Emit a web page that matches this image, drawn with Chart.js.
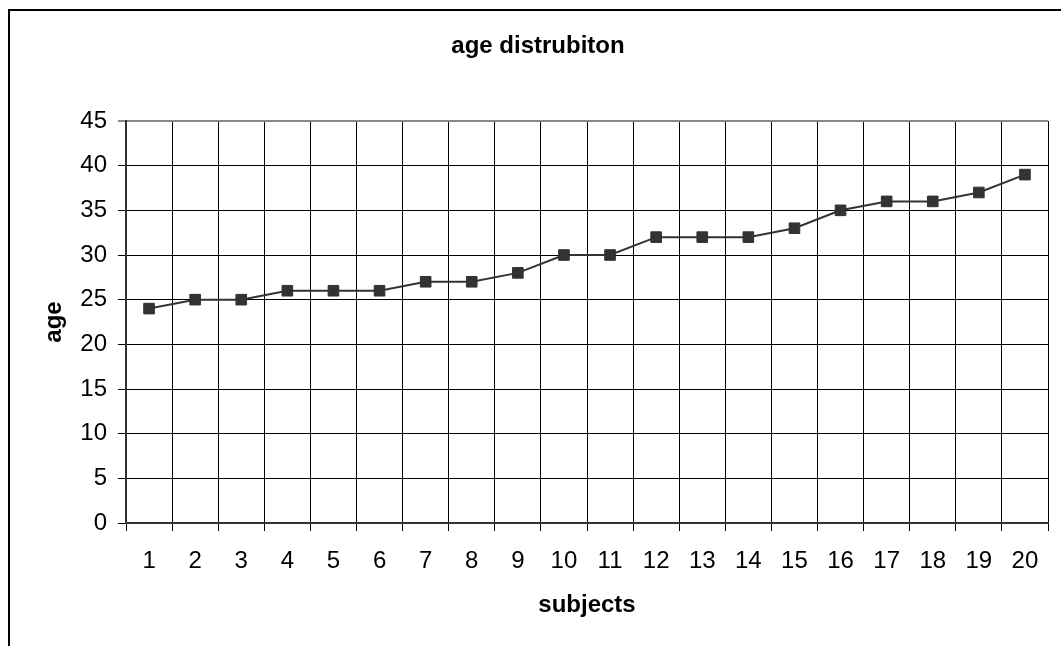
<!DOCTYPE html>
<html>
<head>
<meta charset="utf-8">
<title>age distrubiton</title>
<script src="https://cdn.jsdelivr.net/npm/chart.js@4/dist/chart.umd.min.js"></script>
<style>
  html, body { margin: 0; padding: 0; background: #fff; overflow: hidden; }
  body { width: 1061px; height: 646px; position: relative; }
  .frame {
    position: absolute;
    left: 8px;
    top: 9px;
    width: 1070px;
    height: 700px;
    border-left: 2px solid #000;
    border-top: 2px solid #000;
  }
  canvas { display: block; }
</style>
</head>
<body>
<div class="frame">
  <canvas id="chart" width="1056" height="635"></canvas>
</div>
<script>
const subjects = ["1", "2", "3", "4", "5", "6", "7", "8", "9", "10",
  "11", "12", "13", "14", "15", "16", "17", "18", "19", "20"];
const ages = [24, 25, 25, 26, 26, 26, 27, 27, 28, 30,
  30, 32, 32, 32, 33, 35, 36, 36, 37, 39];
const ageTicks = [0, 5, 10, 15, 20, 25, 30, 35, 40, 45];

const FONT = "'Liberation Sans', Arial, sans-serif";
const lineColor = "#333333";
const frameGray = "#888888";

Chart.defaults.font.family = FONT;
Chart.defaults.color = "#000";

function renderChart() {
  const canvas = document.getElementById("chart");
  const lastGrid = subjects.length;

  return new Chart(canvas, {
    type: "line",
    data: {
      labels: subjects,
      datasets: [
        {
          label: "age",
          data: ages,
          borderColor: lineColor,
          backgroundColor: lineColor,
          borderWidth: 2,
          pointStyle: "rect",
          pointRadius: 7.5,
          pointBorderWidth: 1,
          pointBorderColor: lineColor,
          pointBackgroundColor: lineColor,
          tension: 0,
        },
      ],
    },
    options: {
      responsive: false,
      animation: false,
      devicePixelRatio: 1,
      layout: {
        padding: { left: 0, right: 0, top: 0, bottom: 0 },
      },
      plugins: {
        legend: { display: false },
        tooltip: { enabled: false },
        title: {
          display: true,
          text: "age distrubiton",
          color: "#000",
          font: { size: 24, weight: "bold" },
          padding: { top: 21, bottom: 60.2 },
        },
      },
      scales: {
        x: {
          type: "category",
          offset: true,
          afterFit(scale) {
            scale.height = 123;
          },
          grid: {
            offset: true,
            drawOnChartArea: true,
            tickLength: 8,
            color(ctx) {
              return ctx.index === lastGrid ? frameGray : "#000";
            },
            lineWidth(ctx) {
              return ctx.index === lastGrid ? 2 : 1;
            },
          },
          border: { display: true, color: lineColor, width: 2 },
          ticks: {
            color: "#000",
            padding: 15.6,
            maxRotation: 0,
            autoSkip: false,
            font: { size: 24 },
          },
          title: {
            display: true,
            text: "subjects",
            color: "#000",
            font: { size: 24, weight: "bold" },
            padding: { top: 0, bottom: 26 },
          },
        },
        y: {
          type: "linear",
          position: "left",
          min: ageTicks[0],
          max: ageTicks[ageTicks.length - 1],
          afterFit(scale) {
            scale.width = 116;
          },
          afterBuildTicks(scale) {
            scale.ticks = ageTicks.map((value) => ({ value }));
          },
          grid: {
            tickLength: 8,
            color(ctx) {
              return ctx.tick && ctx.tick.value === 45 ? frameGray : "#000";
            },
            lineWidth(ctx) {
              return ctx.tick && ctx.tick.value === 45 ? 2 : 1;
            },
          },
          border: { display: true, color: lineColor, width: 2 },
          ticks: {
            color: "#000",
            padding: 11,
            font: { size: 24 },
          },
          title: {
            display: true,
            text: "age",
            color: "#000",
            font: { size: 24, weight: "bold" },
            padding: { top: 29.8, bottom: 0 },
          },
        },
        spacer: {
          type: "linear",
          position: "right",
          display: true,
          afterFit(scale) {
            scale.width = 18;
          },
          grid: { display: false, drawTicks: false },
          border: { display: false },
          ticks: { display: false },
        },
      },
    },
  });
}

window.addEventListener("DOMContentLoaded", renderChart);
</script>
</body>
</html>
